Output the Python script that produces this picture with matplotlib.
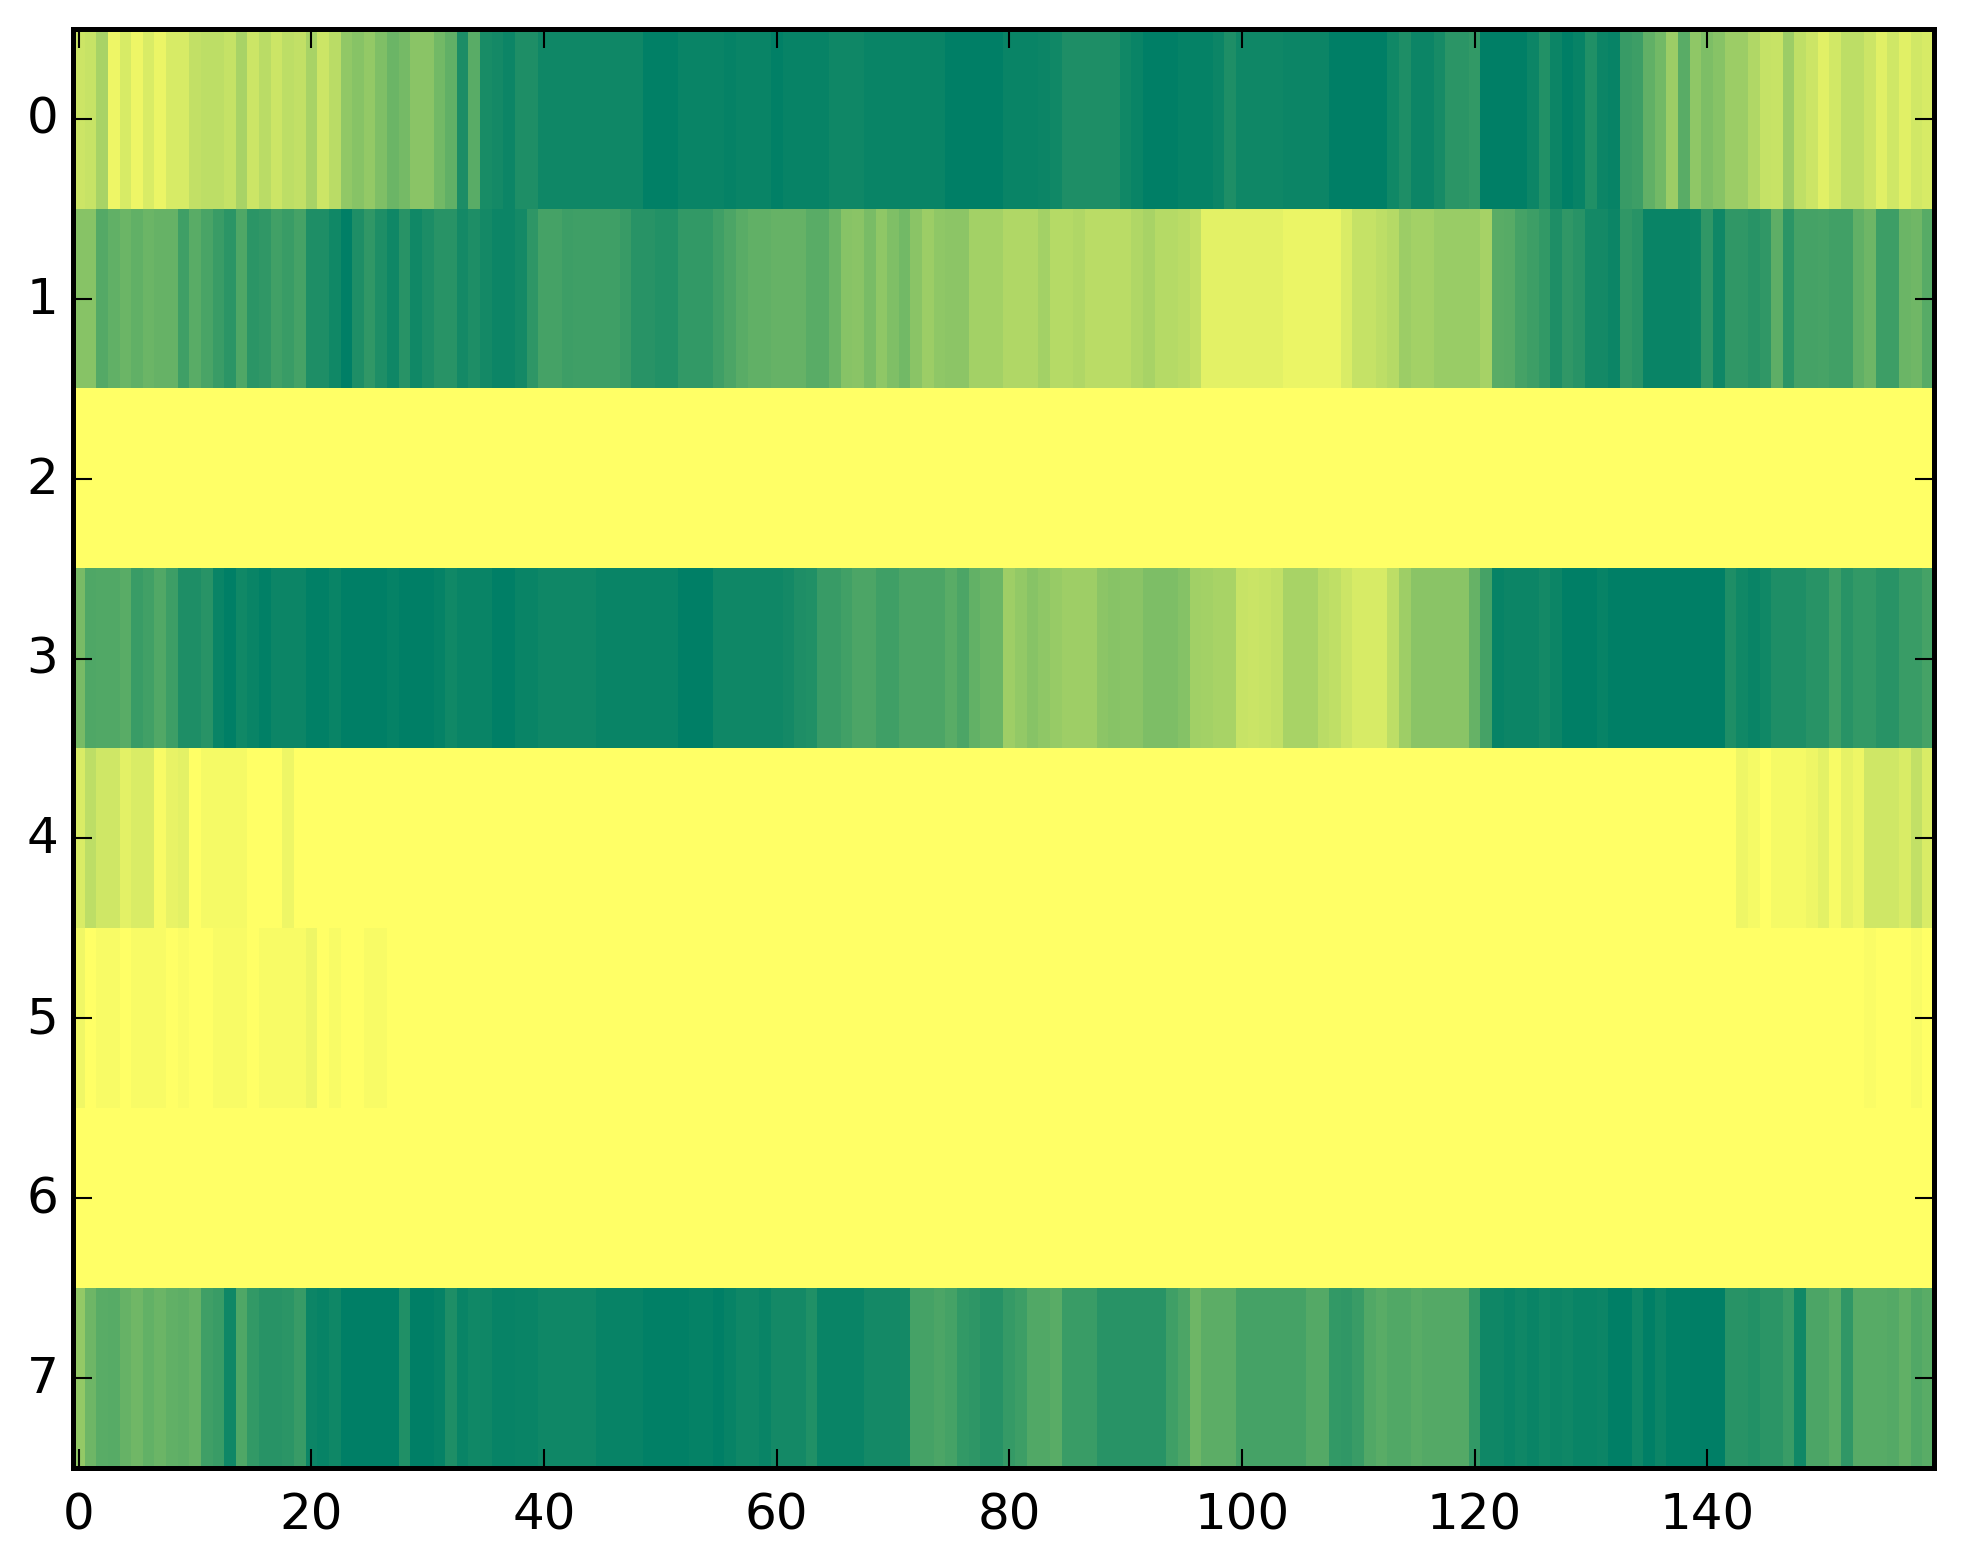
import numpy as np
import matplotlib
matplotlib.use("Agg")
import matplotlib.pyplot as plt

row_0 = [20,22,34,7,16,7,15,8,16,16, 24,26,26,23,34,20,27,20,26,24,
         34,20,27,43,47,42,50,58,54,46, 46,55,62,89,65,90,92,95,88,88,
         94,94,94,94,94,94,94,94,94,99, 99,99,96,96,96,96,98,96,96,96,
         99,97,97,97,97,94,94,94,96,96, 96,96,96,96,96,100,100,100,100,100,
         96,96,96,95,93,88,88,88,88,88, 93,96,100,100,100,98,98,98,95,88,
         94,94,94,94,95,95,95,95,100,100, 100,100,100,93,88,95,95,91,83,83,
         80,100,100,100,100,95,86,95,100,97, 87,95,97,78,76,62,55,39,65,44,
         51,47,39,39,31,23,22,39,25,20, 12,18,26,26,20,12,19,12,18,16]
row_1 = [47,47,67,62,58,62,58,60,60,75, 65,71,77,83,69,83,81,74,77,73,
         88,88,93,100,88,81,88,94,84,93, 89,84,84,92,88,92,95,95,92,82,
         73,73,76,75,75,75,75,78,84,84, 86,86,80,80,80,75,70,65,62,62,
         60,60,60,65,65,58,47,46,52,44, 50,55,46,39,44,45,45,36,36,36,
         31,31,31,36,29,29,31,27,27,27, 27,31,34,29,29,27,24,11,11,11,
         11,11,11,11,8,8,8,8,8,15, 23,23,26,29,39,36,36,40,40,40,
         40,35,65,66,73,76,80,88,81,84, 92,92,95,81,84,96,96,96,96,95,
         81,94,81,81,84,81,63,83,73,73, 72,74,74,62,57,76,76,58,56,66]
row_2 = [0] * 160
row_3 = [53,69,68,68,65,77,74,68,76,88, 88,84,96,100,93,96,99,95,95,95,
         99,99,96,100,100,100,100,98,100,100, 100,98,93,96,96,96,100,100,96,96,
         94,94,94,94,94,96,96,96,96,96, 96,96,100,100,100,94,94,94,94,94,
         94,92,88,87,78,78,74,70,70,75, 75,70,70,70,70,65,70,61,58,58,
         38,42,47,44,41,38,38,38,45,47, 46,46,51,51,51,48,37,36,34,34,
         22,21,22,24,34,34,34,27,25,20, 16,16,16,26,38,46,46,46,46,46,
         60,73,97,95,95,95,92,95,100,100, 100,97,100,100,100,100,100,100,100,100,
         100,100,88,93,96,93,88,88,88,84, 84,76,84,80,80,84,84,77,77,73]
row_4 = [15,26,19,19,11,15,15,3,9,11, 0,4,4,4,4,0,0,0,7,0] + [0] * 123 + \
        [7,4,0,4,4,4,7,11,3,10,7,19,19,19,15,24,15]
row_5 = [6,0,3,3,0,3,3,3,0,2, 0,0,3,3,3,0,3,3,3,3, 7,0,3,0,0,3,3,0] + [0] * 126 + \
        [2,0,0,0,3,0]
row_6 = [0] * 160
row_7 = [42,57,65,66,60,56,61,58,62,63, 60,75,77,94,69,80,84,84,83,78,
         95,97,94,100,100,100,100,100,87,100, 100,98,88,96,93,94,97,97,96,96,
         94,94,94,94,94,97,97,97,97,99, 99,99,99,98,98,100,97,94,94,96,
         92,92,92,87,96,96,96,96,92,92, 92,92,73,73,70,73,80,82,85,85,
         79,76,68,68,65,77,77,77,84,84, 84,84,84,84,75,70,57,64,64,64,
         73,73,73,73,73,73,67,67,80,81, 77,68,65,68,68,65,67,67,67,67,
         80,94,94,96,94,96,93,95,94,96, 96,95,100,100,94,100,95,99,99,100,
         100,100,84,84,86,83,83,77,93,70, 70,65,81,66,66,66,67,62,68,65]
x_ticks = [0, 20, 40, 60, 80, 100, 120, 140]
y_ticks = [0, 1, 2, 3, 4, 5, 6, 7]

rows = [row_0, row_1, row_2, row_3, row_4, row_5, row_6, row_7]
for r in rows:
    assert len(r) == 160, len(r)
data = np.array(rows, dtype=float)

plt.style.use("classic")
plt.rcParams["font.family"] = "DejaVu Sans"
W, H = 1963, 1564
fig = plt.figure(figsize=(W / 300, H / 300), dpi=300, facecolor="white")
L, R, T, B = 73, 1934, 30, 1469
ax = fig.add_axes([L / W, 1 - B / H, (R - L) / W, (B - T) / H])
ax.imshow(data, cmap="summer_r", vmin=0, vmax=100, aspect="auto",
          interpolation="nearest")
ax.set_xticks(x_ticks)
ax.set_yticks(y_ticks)
ax.set_xlim(-0.5, 159.5)
ax.set_ylim(7.5, -0.5)
ax.tick_params(labelsize=12, length=4.5, width=0.5)
ax.tick_params(axis="x", pad=5.5)
ax.tick_params(axis="y", pad=3.5)
for s in ax.spines.values():
    s.set_linewidth(1.2)
fig.savefig("out.png", dpi=300, facecolor="white")
